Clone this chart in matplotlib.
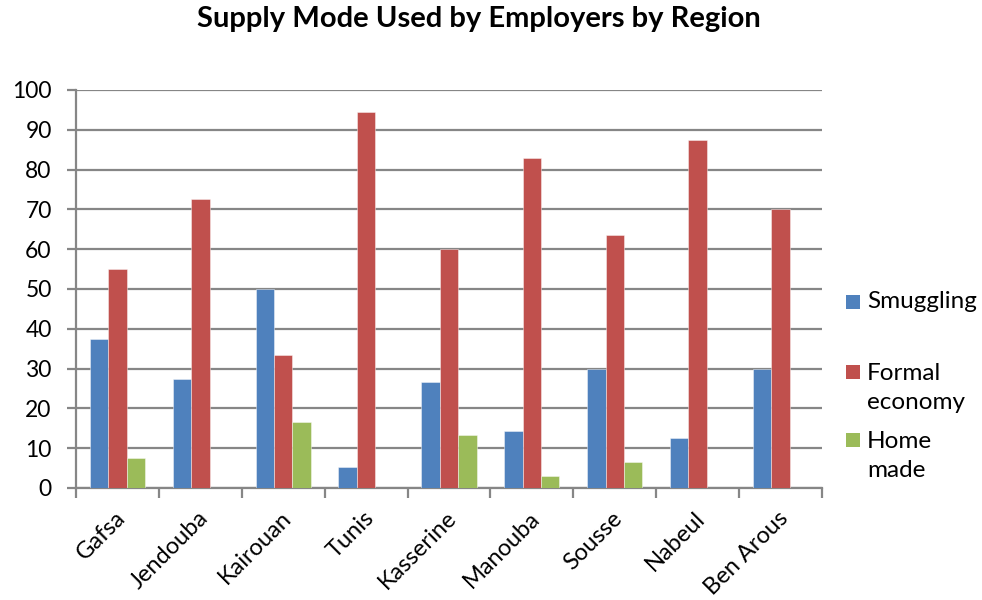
import numpy as np
import matplotlib.pyplot as plt
import matplotlib.transforms as mtransforms
from matplotlib.patches import Rectangle

# Données du graphique
regions = ['Gafsa', 'Jendouba', 'Kairouan', 'Tunis', 'Kasserine',
           'Manouba', 'Sousse', 'Nabeul', 'Ben Arous']
smuggling = [37.5, 27.3, 50, 5.3, 26.7, 14.3, 30, 12.5, 30]
formal = [55, 72.7, 33.3, 94.5, 60, 83, 63.5, 87.5, 70]
home_made = [7.5, 0, 16.7, 0, 13.3, 2.9, 6.5, 0, 0]
series_labels = ['Smuggling', 'Formal\neconomy', 'Home\nmade']
y_ticks = range(0, 101, 10)

# Couleurs
colors = ['#4F81BD', '#C0504D', '#9BBB59']
grid_color = '#868686'

plt.rcParams['font.family'] = ['Lato', 'DejaVu Sans']

fig = plt.figure(figsize=(9.82, 6), dpi=100)
ax = fig.add_axes([0.0774, 0.1867, 0.7596, 0.6633])

x = np.arange(len(regions))
w = 0.222
for i, vals in enumerate([smuggling, formal, home_made]):
    ax.bar(x + (i - 1) * w, vals, w, color=colors[i],
           edgecolor=(1, 1, 1, 0.5), linewidth=0.6, zorder=3)

ax.set_xlim(-0.5, len(regions) - 0.5)
ax.set_ylim(0, 100)
ax.set_yticks(list(y_ticks))
ax.yaxis.grid(True, color=grid_color, linewidth=1.6, zorder=0)
ax.tick_params(axis='y', labelsize=16.5, length=6.5, width=1.6, color=grid_color, pad=11)

# ticks x aux frontières des catégories
ax.set_xticks(np.arange(-0.5, len(regions)), minor=False)
ax.set_xticklabels([])
ax.set_xticks(x, minor=True)
ax.set_xticklabels(regions, minor=True, rotation=45, ha='right',
                   rotation_mode='anchor', fontsize=17)
ax.tick_params(axis='x', which='major', length=7, width=1.6, color=grid_color)
ax.tick_params(axis='x', which='minor', length=0, pad=14)
shift = mtransforms.ScaledTranslation(-3 / 100, 0, fig.dpi_scale_trans)
for lab in ax.get_xticklabels(minor=True):
    lab.set_transform(lab.get_transform() + shift)

for side in ['top', 'right']:
    ax.spines[side].set_visible(False)
for side in ['left', 'bottom']:
    ax.spines[side].set_color(grid_color)
    ax.spines[side].set_linewidth(1.6)

fig.suptitle('Supply Mode Used by Employers by Region', x=0.488, y=0.99,
             fontsize=21, fontweight='bold', va='top')

# Légende
legend_y = [302, 388, 456]
for i, lab in enumerate(series_labels):
    yc = 1 - legend_y[i] / 600
    top_line = 1 - (legend_y[i] - (16 if '\n' in lab else 0)) / 600
    fig.patches.append(Rectangle((846 / 982, top_line - 7 / 600), 14 / 982, 14 / 600,
                                 transform=fig.transFigure, facecolor=colors[i],
                                 edgecolor='none'))
    fig.text(867 / 982, yc, lab, fontsize=17.5, va='center', ha='left',
             linespacing=1.5)

fig.savefig('out.png', dpi=100)
